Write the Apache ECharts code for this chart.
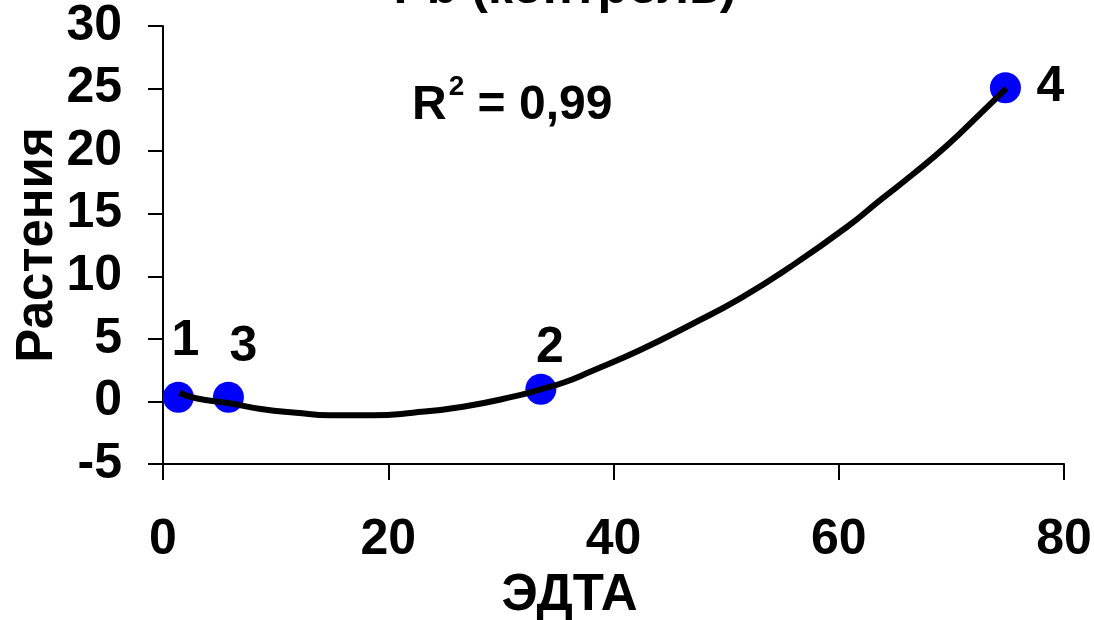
<!DOCTYPE html>
<html>
<head>
<meta charset="utf-8">
<script src="https://cdn.jsdelivr.net/npm/echarts@6/dist/echarts.min.js"></script>
<style>html,body{margin:0;padding:0;background:#fff}#c{width:1094px;height:620px}</style>
</head>
<body>
<div id="c"></div>
<script>
// Data
const pointNames = ['1', '3', '2', '4'];
const pointX = [1.36, 5.81, 33.55, 74.8];
const pointY = [0.33, 0.33, 0.97, 25.07];
// Trend line (2nd order polynomial)
const trendX = [1.46, 2.93, 5.90, 8.86, 11.82, 14.79, 18.64, 22.20, 26.64, 31.08, 33.55, 35.53, 37.93, 42.37, 46.82, 51.26, 55.71, 60.75, 63.68, 66.69, 69.66, 72.6, 74.88];
const trendY = [0.70, 0.25, -0.15, -0.63, -0.90, -1.11, -1.11, -0.90, -0.42, 0.38, 0.97, 1.49, 2.37, 4.11, 6.11, 8.24, 10.76, 13.96, 16.09, 18.23, 20.49, 23.02, 25.02];
const xTicks = [0, 20, 40, 60, 80];
const yTicks = [-5, 0, 5, 10, 15, 20, 25, 30];
const titleText = 'Pb (контроль)';
const xName = 'ЭДТА';
const yName = 'Растения';
const r2Value = '0,99';

const FONT = '"Liberation Sans", Arial, sans-serif';
const labelOffsets = {'1': [7, -56], '3': [15, -50], '2': [9, -41], '4': [45, 0]};

const chart = echarts.init(document.getElementById('c'), null, {renderer: 'canvas'});
chart.setOption({
  backgroundColor: '#fff',
  animation: false,
  title: {
    text: titleText,
    left: 560,
    textAlign: 'center',
    top: -41,
    textStyle: {fontFamily: FONT, fontWeight: 'bold', fontSize: 50, color: '#000'}
  },
  grid: {left: 163, right: 30, top: 26, bottom: 156, containLabel: false, outerBoundsMode: 'none'},
  xAxis: {
    type: 'value', min: xTicks[0], max: xTicks[xTicks.length - 1], interval: 20,
    name: xName, nameLocation: 'middle', nameGap: 106, nameMoveOverlap: false,
    nameTextStyle: {fontFamily: FONT, fontWeight: 'bold', fontSize: 51, color: '#000', padding: [0, 88, 0, 0]},
    axisLine: {onZero: false, lineStyle: {color: '#000', width: 2}},
    axisTick: {show: true, inside: false, length: 16, lineStyle: {color: '#000', width: 2}},
    axisLabel: {margin: 51, fontFamily: FONT, fontWeight: 'bold', fontSize: 50, color: '#000'},
    splitLine: {show: false}
  },
  yAxis: {
    type: 'value', min: yTicks[0], max: yTicks[yTicks.length - 1], interval: 5,
    name: yName, nameLocation: 'middle', nameGap: 100, nameMoveOverlap: false,
    nameTextStyle: {fontFamily: FONT, fontWeight: 'bold', fontSize: 51, color: '#000'},
    axisLine: {show: true, onZero: false, lineStyle: {color: '#000', width: 2}},
    axisTick: {show: true, inside: false, length: 15, lineStyle: {color: '#000', width: 2}},
    axisLabel: {margin: 41, fontFamily: FONT, fontWeight: 'bold', fontSize: 50, color: '#000'},
    splitLine: {show: false}
  },
  graphic: [{
    type: 'text',
    x: 412, y: 106,
    style: {
      text: '{b|R}{s|2}{b| = ' + r2Value + '}',
      align: 'left',
      verticalAlign: 'middle',
      rich: {
        b: {fontFamily: FONT, fontWeight: 'bold', fontSize: 48, lineHeight: 66, fill: '#000', color: '#000'},
        s: {fontFamily: FONT, fontWeight: 'bold', fontSize: 28, lineHeight: 28, verticalAlign: 'top', fill: '#000', color: '#000', padding: [0, 0, 0, 2]}
      }
    }
  }],
  series: [{
    type: 'scatter',
    symbol: 'circle',
    symbolSize: 31,
    itemStyle: {color: '#0000FF', opacity: 1},
    data: pointNames.map((n, i) => ({
      name: n,
      value: [pointX[i], pointY[i]],
      label: {offset: labelOffsets[n]}
    })),
    label: {
      show: true, position: 'inside', formatter: '{b}',
      fontFamily: FONT, fontWeight: 'bold', fontSize: 50, color: '#000', opacity: 1
    },
    z: 2
  }, {
    type: 'line',
    data: trendX.map((x, i) => [x, trendY[i]]),
    showSymbol: false,
    smooth: true,
    lineStyle: {color: '#000', width: 6},
    z: 3
  }]
});
</script>
</body>
</html>
